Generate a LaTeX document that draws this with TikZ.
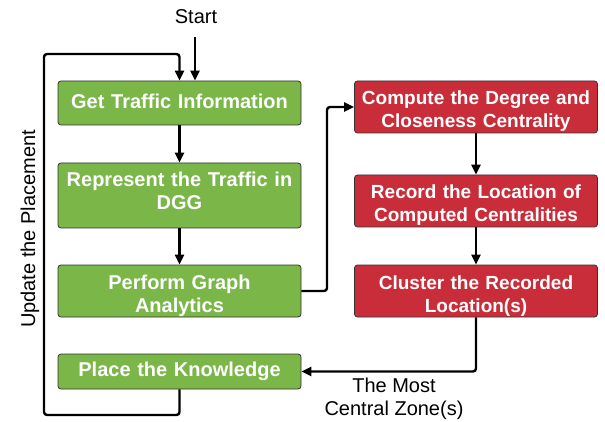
\documentclass[tikz,border=0pt]{standalone}
\usepackage{fontspec}
\setmainfont{Liberation Sans}
\usetikzlibrary{arrows.meta}
\definecolor{stepgreen}{HTML}{7AB648}
\definecolor{stepred}{HTML}{C92D39}
\definecolor{edgegray}{HTML}{333333}
\begin{document}
\begin{tikzpicture}[x=1pt,y=-1pt,
  box/.style={draw=edgegray,line width=0.8pt,rounded corners=3pt,
    minimum width=243pt,text width=241pt,align=center,inner sep=0pt,
    text=white},
  gbox/.style={box,fill=stepgreen,font=\fontsize{20}{23}\selectfont\bfseries},
  rbox/.style={box,fill=stepred,font=\fontsize{19}{23}\selectfont\bfseries},
  oneline/.style={text height=14.6pt,text depth=4pt},
  twoline/.style={text height=23pt,text depth=27pt},
  conn/.style={line width=2.4pt,rounded corners=3pt,
    -{Triangle[length=10pt,width=9pt]}},
  plain/.style={font=\fontsize{20}{23}\selectfont,inner sep=0pt,align=center}]
\useasboundingbox (0,0) rectangle (605,422);

% left column
\node[gbox,oneline,minimum height=44pt] (g1) at (179.5,103) {Get Traffic Information};
\node[gbox,text height=6pt,text depth=23pt,minimum height=65pt] (g2) at (179.5,195.5) {Represent the Traffic in\\DGG};
\node[gbox,twoline,minimum height=52pt] (g3) at (179.5,291) {Perform Graph\\Analytics};
\node[gbox,oneline,minimum height=35pt] (g4) at (179.5,371.5) {Place the Knowledge};

% right column
\node[rbox,twoline,minimum height=52pt] (r1) at (476,107) {Compute the Degree and\\Closeness Centrality};
\node[rbox,twoline,minimum height=52pt] (r2) at (476,201) {Record the Location of\\Computed Centralities};
\node[rbox,twoline,minimum height=52pt] (r3) at (476,291) {Cluster the Recorded\\Location(s)};

% labels
\node[plain] (start) at (196,17) {Start};
\node[plain,rotate=90,anchor=base] (upd) at (35,229) {Update the Placement};
\node[plain] (zone) at (394,399) {The Most\\Central Zone(s)};

% entry arrow
\coordinate (s0) at (195,37);
\draw[conn] (s0) -- (s0 |- g1.north);

% main flow
\draw[conn] (g1) -- (g2);
\draw[conn] (g2) -- (g3);
\draw[conn] (g3.east) -| (327,107) -- (r1.west);
\draw[conn] (r1) -- (r2);
\draw[conn] (r2) -- (r3);
\draw[conn] (r3.south) |- (g4.east);

% feedback loop
\draw[conn] (g4.south) -- (179.5,415) -- (44,415) -- (44,54) -- (179.5,54) -- (g1.north);
\end{tikzpicture}
\end{document}
